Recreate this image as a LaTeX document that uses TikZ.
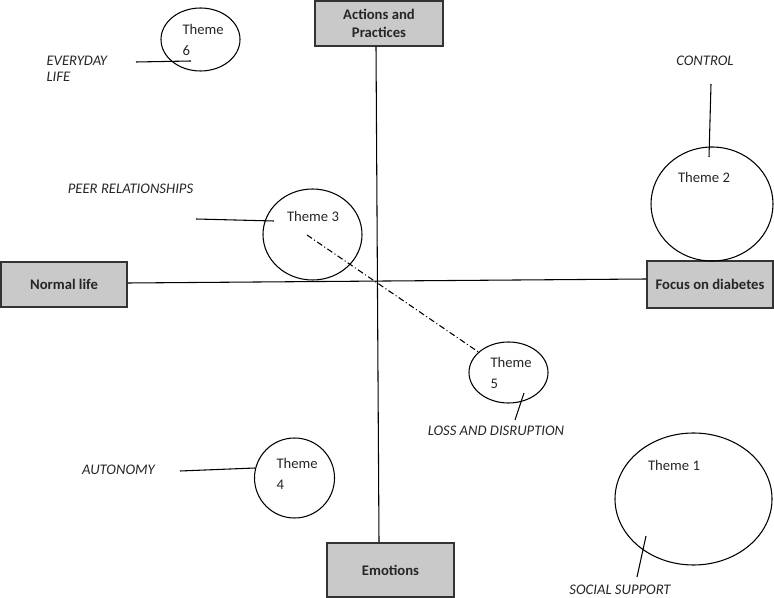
\documentclass[tikz,border=0pt]{standalone}
\usepackage{fontspec}
\setmainfont{Carlito}
\usetikzlibrary{shapes.geometric,calc}
\definecolor{boxgray}{RGB}{201,201,201}

\begin{document}
\begin{tikzpicture}[x=0.75pt,y=-0.75pt,line width=0.8pt,
  font=\fontsize{11}{13.4}\selectfont,text=black!85,
  axisbox/.style={draw=black!80,fill=boxgray,rectangle,inner sep=0pt,align=center,font=\fontsize{11}{13.4}\selectfont\bfseries},
  theme/.style={draw,ellipse,inner sep=0pt},
  themetxt/.style={inner sep=0pt,align=left},
  lab/.style={inner sep=0pt,align=left,font=\fontsize{11}{12}\selectfont\itshape},
  dashdot/.style={dash pattern=on 4.5pt off 2pt on 0.75pt off 2pt}]
\useasboundingbox (0,0) rectangle (774,598);
% the four ends of the axes
\node[axisbox,minimum width=96pt,minimum height=33.75pt] (act) at (379,23.5){Actions and\\Practices};
\node[axisbox,minimum width=94.5pt,minimum height=33.75pt] (nl) at (64,284.5){Normal life};
\node[axisbox,minimum width=94.5pt,minimum height=35.25pt] (fd) at (710,284.5){Focus on diabetes};
\node[axisbox,minimum width=95.25pt,minimum height=40.5pt] (emo) at (390.5,570){Emotions};
\draw ($(act.south)+(-3,0)$) -- ($(emo.north)+(-11.5,0)$);
\draw ($(nl.east)+(0,-1.5)$) -- ($(fd.west)+(0,-5.5)$);
% themes
\node[theme,minimum width=59.25pt,minimum height=47.25pt] (t6) at (200.5,39.5){};
\node[theme,minimum width=91.5pt,minimum height=85.5pt] (t2) at (712,204){};
\node[theme,minimum width=74.25pt,minimum height=68.25pt] (t3) at (312.5,234.5){};
\node[theme,minimum width=59.25pt,minimum height=45.75pt] (t5) at (508.5,372.5){};
\node[theme,minimum width=60pt,minimum height=60pt] (t4) at (294.5,478){};
\node[theme,minimum width=117.75pt,minimum height=99pt] (t1) at (693.5,499){};
\node[themetxt,anchor=west] (t6txt) at (182,40){Theme\\[2pt]6};
\node[themetxt] (t2txt) at (704,177){Theme 2};
\node[themetxt] (t3txt) at (313,216){Theme 3};
\node[themetxt,anchor=west] (t5txt) at (490,373){Theme\\[2pt]5};
\node[themetxt,anchor=west] (t4txt) at (276,474){Theme\\[2pt]4};
\node[themetxt] (t1txt) at (674,465){Theme 1};
\coordinate (s3) at (307,235);
\draw[dashdot] (s3) -- (t5);
% labels
\node[lab,anchor=west] (everyday) at (46,69){EVERYDAY\\LIFE};
\node[lab] (control) at (705,61){CONTROL};
\node[lab] (peer) at (130.5,189){PEER RELATIONSHIPS};
\node[lab] (loss) at (496,431){LOSS AND DISRUPTION};
\node[lab] (autonomy) at (118.5,470){AUTONOMY};
\node[lab] (social) at (620,590){SOCIAL SUPPORT};
\coordinate (a6) at (136,62); \coordinate (b6) at (191,61);
\coordinate (a2) at (711,84); \coordinate (b2) at (709,157);
\coordinate (a3) at (196,219); \coordinate (b3) at (274,221);
\coordinate (a5) at (515,420); \coordinate (b5) at (524,393);
\coordinate (a4) at (180,471); \coordinate (b4) at (255,468);
\coordinate (a1) at (637,577); \coordinate (b1) at (646,536);
\draw (a6) -- (b6);
\draw (a2) -- (b2);
\draw (a3) -- (b3);
\draw (a5) -- (b5);
\draw (a4) -- (b4);
\draw (a1) -- (b1);
\end{tikzpicture}
\end{document}
